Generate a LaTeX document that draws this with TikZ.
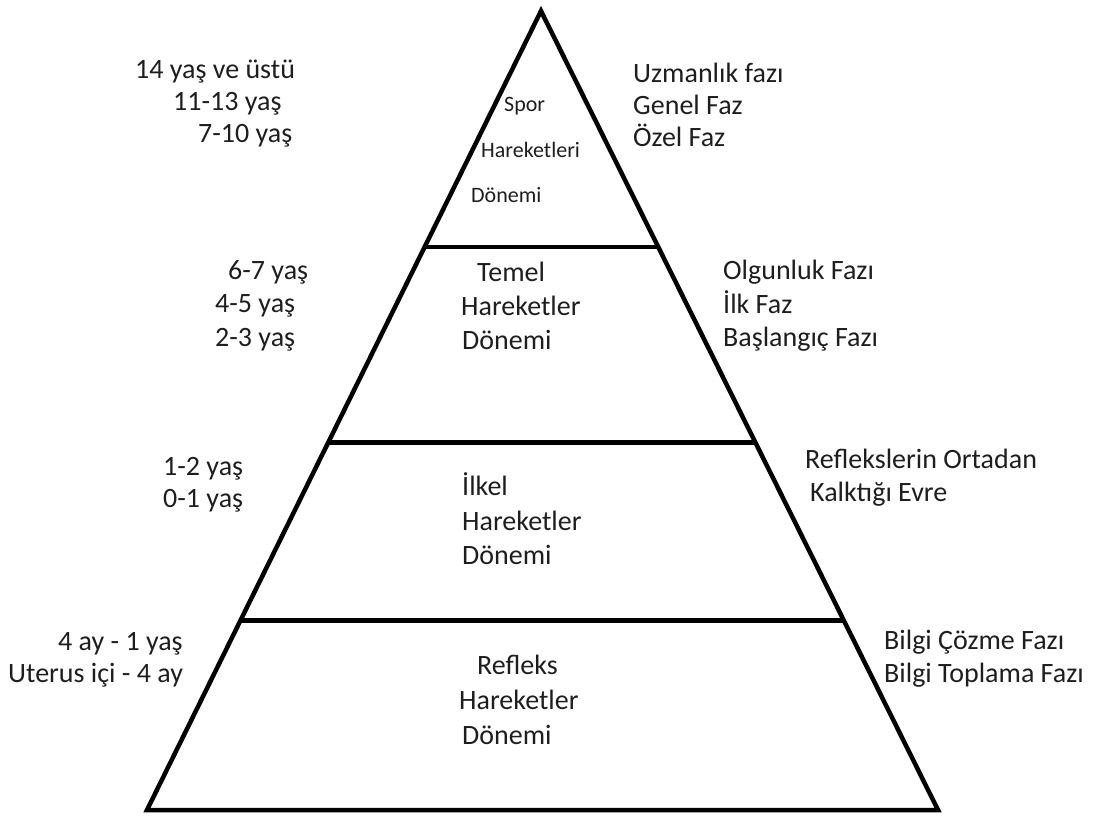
\documentclass[tikz,border=0pt]{standalone}
\usepackage{fontspec}
\setmainfont{Carlito}
\usepackage{tikz}
\usetikzlibrary{calc}
\definecolor{textgray}{RGB}{30,30,30}
\tikzstyle{sidetext} = [anchor=base west, inner sep=0pt, text=textgray,
                        font=\fontsize{28}{32}\selectfont]
\tikzstyle{smalltext} = [sidetext, font=\fontsize{22}{25}\selectfont]
\tikzstyle{edge} = [line width=4.5pt, line join=miter]

\begin{document}
\begin{tikzpicture}[x=1pt, y=-1pt]
    \useasboundingbox (0,0) rectangle (1096,819);

    % Pyramid outline
    \coordinate (apex) at (541,11);
    \coordinate (bl) at (147,810);
    \coordinate (br) at (938,810);
    \draw[edge] (bl) -- (apex) -- (br) -- cycle;

    % Level separators
    \foreach \t/\n in {0.2955/1,0.54/2,0.763/3} {
        \coordinate (l\n) at ($(apex)!\t!(bl)$);
        \coordinate (r\n) at ($(apex)!\t!(br)$);
        \draw[edge] (l\n) -- (r\n);
    }

    % Ages (left)
    \foreach \x/\y/\txt [count=\i] in {135/78/14 yaş ve üstü, 173/110/11-13 yaş, 198/142/7-10 yaş,
                                       228/279/6-7 yaş, 215/312/4-5 yaş, 215/346/2-3 yaş,
                                       163/475/1-2 yaş, 163/507/0-1 yaş,
                                       58/650/4 ay - 1 yaş, 8/682/Uterus içi - 4 ay} {
        \node[sidetext] (age\i) at (\x,\y) {\txt};
    }

    % Phases (right)
    \foreach \x/\y/\txt [count=\i] in {633/82/Uzmanlık fazı, 633/114/Genel Faz, 633/146/Özel Faz,
                                       723/279/Olgunluk Fazı, 723/313/İlk Faz, 723/346/Başlangıç Fazı,
                                       805/468/Reflekslerin Ortadan, 810/501/Kalktığı Evre,
                                       884/649/Bilgi Çözme Fazı, 884/682/Bilgi Toplama Fazı} {
        \node[sidetext] (phase\i) at (\x,\y) {\txt};
    }

    % Periods (inside)
    \foreach \x/\y/\txt [count=\i] in {504/111/Spor, 481/157/Hareketleri, 471/202/Dönemi} {
        \node[smalltext] (sport\i) at (\x,\y) {\txt};
    }
    \foreach \x/\y/\txt [count=\i] in {477/281/Temel, 461/315/Hareketler, 462/349/Dönemi,
                                       462/495/İlkel, 462/530/Hareketler, 462/564/Dönemi,
                                       477/674/Refleks, 459/709/Hareketler, 462/744/Dönemi} {
        \node[sidetext] (stage\i) at (\x,\y) {\txt};
    }
\end{tikzpicture}
\end{document}
